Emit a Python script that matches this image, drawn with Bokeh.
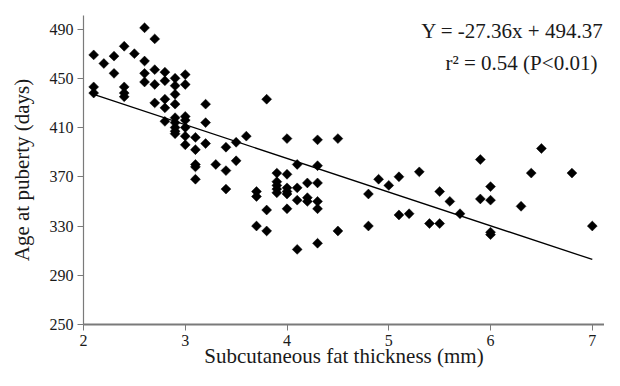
import numpy as np
from bokeh.plotting import figure
from bokeh.models import Range1d, FixedTicker, Label
from bokeh.embed import file_html
from bokeh.resources import INLINE

# Subcutaneous fat thickness (mm)
fat = [2.1, 2.1, 2.1, 2.2, 2.3, 2.3, 2.4, 2.4, 2.4, 2.4, 2.5,
       2.6, 2.6, 2.6, 2.6, 2.7, 2.7, 2.7, 2.7,
       2.8, 2.8, 2.8, 2.8, 2.8,
       2.9, 2.9, 2.9, 2.9, 2.9, 2.9, 2.9, 2.9, 2.9,
       3.0, 3.0, 3.0, 3.0, 3.0, 3.0, 3.0,
       3.1, 3.1, 3.1, 3.1, 3.1,
       3.2, 3.2, 3.2, 3.3, 3.4, 3.4, 3.4, 3.5, 3.5, 3.6,
       3.7, 3.7, 3.7, 3.8, 3.8, 3.8,
       3.9, 3.9, 3.9, 3.9, 3.9,
       4.0, 4.0, 4.0, 4.0, 4.0, 4.0,
       4.1, 4.1, 4.1, 4.1, 4.2, 4.2, 4.2,
       4.3, 4.3, 4.3, 4.3, 4.3, 4.3,
       4.5, 4.5, 4.8, 4.8, 4.9, 5.0, 5.1, 5.1, 5.2, 5.3, 5.4, 5.5, 5.5,
       5.6, 5.7, 5.9, 5.9, 6.0, 6.0, 6.0, 6.0, 6.3, 6.4, 6.5, 6.8, 7.0]
# Age at puberty (days)
age = [469, 443, 438, 462, 468, 454, 476, 443, 438, 435, 470,
       491, 464, 454, 447, 482, 457, 445, 430,
       455, 448, 433, 426, 415,
       450, 444, 437, 429, 418, 414, 410, 407, 405,
       453, 445, 419, 416, 410, 403, 396,
       402, 392, 380, 378, 368,
       429, 414, 397, 380, 394, 375, 360, 398, 383, 403,
       358, 354, 330, 433, 343, 326,
       373, 366, 363, 360, 357,
       401, 372, 361, 358, 356, 344,
       380, 361, 351, 311, 365, 353, 350,
       400, 379, 365, 350, 344, 316,
       401, 326, 356, 330, 368, 363, 370, 339, 340, 374, 332, 358, 332,
       350, 340, 384, 352, 362, 351, 325, 323, 346, 373, 393, 373, 330]

x_ticks = [2, 3, 4, 5, 6, 7]
y_ticks = [250, 290, 330, 370, 410, 450, 490]

slope = -27.36
intercept = 494.37
line_x = [2.1, 7.0]
line_y = [slope * v + intercept for v in line_x]

eq_text = "Y = -27.36x + 494.37"
r2_text = "r\u00b2 = 0.54 (P<0.01)"
x_label = "Subcutaneous fat thickness (mm)"
y_label = "Age at puberty (days)"

FONT = "Liberation Serif"

p = figure(width=604, height=370, output_backend="svg", toolbar_location=None,
           x_range=Range1d(2, 7.12), y_range=Range1d(250, 501),
           min_border_left=83, min_border_right=0, min_border_top=15,
           min_border_bottom=46)
p.outline_line_color = None
p.grid.visible = False
p.background_fill_color = "white"
p.border_fill_color = "white"

for ax in (p.xaxis[0], p.yaxis[0]):
    ax.major_label_text_font = FONT
    ax.major_label_text_font_size = "16px"
    ax.major_label_text_color = "#1a1a1a"
    ax.axis_label_text_font = FONT
    ax.axis_label_text_font_size = "21px"
    ax.axis_label_text_font_style = "normal"
    ax.axis_label_text_color = "#1a1a1a"
    ax.axis_line_color = "#7a7a7a"
    ax.major_tick_line_color = "#7a7a7a"
    ax.minor_tick_line_color = None
    ax.major_tick_in = 0
    ax.major_tick_out = 6

p.xaxis.ticker = FixedTicker(ticks=x_ticks)
p.yaxis.ticker = FixedTicker(ticks=y_ticks)
p.xaxis.axis_line_width = 2
p.yaxis.axis_line_width = 1.2
p.xaxis.major_label_standoff = 4
p.yaxis.major_label_standoff = 4
p.xaxis.axis_label = x_label
p.yaxis.axis_label = y_label
p.xaxis.axis_label_standoff = -5
p.yaxis.axis_label_standoff = 13

p.line(line_x, line_y, line_color="black", line_width=1.3)
p.scatter(fat, age, marker="square", size=7, angle=np.pi / 4,
          fill_color="black", line_color="black", line_width=0.5)

p.add_layout(Label(x=7.11, y=488.7, text=eq_text, text_align="right",
                   text_baseline="alphabetic", text_font=FONT,
                   text_font_size="21px", text_color="#1a1a1a"))
p.add_layout(Label(x=7.05, y=462.5, text=r2_text, text_align="right",
                   text_baseline="alphabetic", text_font=FONT,
                   text_font_size="21px", text_color="#1a1a1a"))

open("out.html", "w").write(file_html(p, INLINE))
